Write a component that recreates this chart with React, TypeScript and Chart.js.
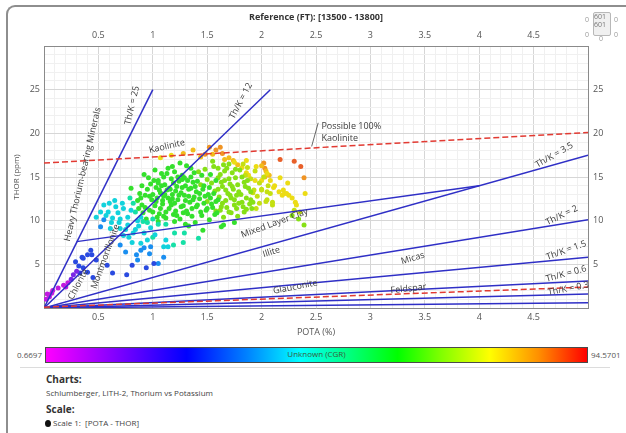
import React, { useEffect, useRef } from 'react';
import { Chart, registerables } from 'chart.js';
Chart.register(...registerables);

const FONT = '"Open Sans", "Noto Sans", sans-serif';

// ---------- axes ----------
const X_MIN = 0;
const X_MAX = 5;
const Y_MIN = 0;
const Y_MAX = 30;
const xTickLabels = [0.5, 1, 1.5, 2, 2.5, 3, 3.5, 4, 4.5];
const yTickLabels = [5, 10, 15, 20, 25];
const topTitle = 'Reference (FT): [13500 - 13800]';
const xTitle = 'POTA (%)';
const yTitle = 'THOR (ppm)';
const cgrMin = '0.6697';
const cgrMax = '94.5701';
const cgrName = 'Unknown (CGR)';

// ---------- reference lines (POTA, THOR) ----------
const lineThK25 = [[0, 0], [1, 25]];
const lineThK12 = [[0, 0], [2.08, 25]];
const lineThK35 = [[0, 0], [5, 17.5]];
const lineThK2 = [[0, 0], [5, 10.1]];
const lineThK15 = [[0, 0], [5, 5.8]];
const lineThK06 = [[0, 0], [5, 3.1]];
const lineThK03 = [[0, 0], [5, 1.6]];
const lineBottom = [[0, 0], [5, 0.6]];
const lineMixedLayer = [[0.3, 7.6], [4.0, 14.0]];
const lineKaolinite = [[0, 16.6], [5, 20.1]];
const lineFeldsparRed = [[0, 0.1], [5, 2.4]];

// ---------- scatter points by CGR colour band ----------
const magentaPts = [[0.03, 1.6], [0.07, 1.7], [0.08, 2.0], [0.05, 1.3], [0.02, 1.0], [0.13, 2.3], [0.18, 2.6], [0.2, 2.4], [0.22, 2.9]];
const violetPts = [[0.27, 3.8], [0.25, 3.3], [0.3, 4.2]];
const bluePts = [[0.29, 5.3], [0.32, 4.8], [0.36, 5.7], [0.36, 4.6], [0.4, 6.1], [0.43, 6.6], [0.4, 4.1], [0.45, 3.5], [0.33, 4.0], [0.76, 3.8], [0.58, 4.9], [0.63, 4.0], [0.81, 4.9], [0.35, 5.8], [0.44, 6.1], [0.48, 5.5], [0.94, 4.6], [1.01, 5.1]];
const azurePts = [[0.85, 6.1], [0.86, 5.5], [0.92, 6.9], [0.98, 7.0], [0.89, 6.6], [1.05, 5.1], [1.1, 5.8], [0.97, 6.2], [0.7, 7.2], [0.75, 6.4], [0.52, 9.3], [0.55, 10.1]];
const cyanPts = [[0.52, 11.0], [0.59, 11.0], [0.63, 10.3], [0.68, 10.9], [0.69, 9.8], [0.61, 9.1], [0.7, 9.1], [0.77, 9.5], [0.73, 8.3], [0.78, 8.1], [0.81, 7.5], [0.89, 7.4], [0.73, 11.4], [0.8, 11.2], [0.77, 10.4], [0.89, 10.4], [0.84, 9.0], [0.92, 8.6], [0.98, 9.2], [0.95, 7.8], [0.6, 12.0], [0.66, 11.6], [0.86, 10.0], [1.02, 8.4], [1.1, 7.0], [1.14, 7.0], [1.12, 7.8], [0.48, 10.4],
  [0.55, 11.8], [0.65, 12.3], [0.7, 10.2], [0.75, 9.0], [0.82, 8.6], [0.87, 9.4], [0.62, 9.8], [0.57, 10.6], [0.72, 12.0]];
const tealPts = [[1.0, 8.1], [1.19, 7.2], [1.28, 7.5], [1.29, 8.6], [0.95, 9.8], [1.0, 10.2], [1.2, 8.6], [1.05, 9.6], [0.82, 12.0], [0.84, 11.0], [1.42, 8.0], [1.12, 9.6], [0.79, 12.6], [0.91, 9.9]];
const greenPts = [
  [0.86, 12.3], [0.88, 13.1], [0.9, 11.8], [0.93, 12.9], [0.95, 13.6], [0.97, 11.2], [0.98, 14.2], [0.99, 12.4], [0.91, 10.9], [0.87, 11.4], [0.94, 10.2], [0.96, 14.9], [1.0, 13.0], [0.92, 15.3], [0.8, 13.7], [0.89, 12.6], [1.05, 14.3],
  [1.02, 11.7], [1.03, 13.8], [1.04, 12.6], [1.05, 14.6], [1.06, 10.8], [1.07, 13.2], [1.08, 15.4], [1.09, 11.9], [1.1, 12.8], [1.11, 14.1], [1.12, 10.3], [1.13, 13.5], [1.14, 16.0], [1.15, 11.4], [1.16, 12.2], [1.17, 14.8], [1.18, 13.0], [1.19, 10.7], [1.2, 15.6], [1.05, 9.9], [1.18, 12.5],
  [1.21, 11.1], [1.22, 13.9], [1.23, 12.4], [1.24, 14.5], [1.25, 10.2], [1.26, 13.2], [1.27, 15.2], [1.28, 11.7], [1.29, 12.9], [1.3, 14.0], [1.31, 16.3], [1.32, 10.8], [1.33, 13.6], [1.34, 12.1], [1.35, 15.0], [1.36, 11.4], [1.37, 14.4], [1.38, 12.7], [1.39, 9.8], [1.4, 13.3], [1.25, 16.6], [1.33, 9.4],
  [1.41, 11.8], [1.43, 12.5], [1.45, 10.6], [1.46, 13.6], [1.47, 12.0], [1.49, 11.2], [1.51, 13.0], [1.52, 10.1], [1.53, 12.6], [1.55, 11.5], [1.58, 12.2], [1.59, 10.9], [1.46, 8.9], [1.63, 9.3], [1.65, 9.5], [1.75, 9.8], [1.15, 13.7], [1.27, 14.7], [1.1, 15.0],
  [0.9, 14.0], [0.93, 11.5], [0.97, 12.8], [1.0, 11.0], [1.01, 14.6], [1.03, 12.2], [1.04, 10.4], [1.06, 13.5], [1.07, 11.4], [1.08, 14.0], [1.09, 12.3], [1.11, 13.0], [1.12, 11.0], [1.13, 15.4], [1.14, 12.6], [1.16, 13.6], [1.17, 11.8], [1.19, 14.3], [1.2, 12.0], [1.21, 13.4], [1.22, 10.6], [1.23, 15.0], [1.24, 12.9], [1.26, 11.6], [1.27, 13.8], [1.28, 10.9], [1.29, 14.9], [1.3, 12.3], [1.31, 11.1], [1.32, 14.6], [1.33, 12.8], [1.35, 13.7], [1.36, 10.5], [1.37, 12.4], [1.38, 15.5], [1.39, 13.9], [1.4, 11.6], [1.41, 14.5], [1.43, 13.1], [1.44, 11.0], [1.45, 15.2], [1.47, 14.0], [1.48, 12.8], [1.5, 11.4], [1.52, 13.8], [1.53, 15.3], [1.54, 11.9], [1.56, 13.1], [1.57, 10.7], [1.58, 14.6], [1.6, 12.4], [1.2, 9.9], [1.3, 9.6], [1.1, 10.5], [1.02, 15.8], [1.18, 16.2], [1.35, 16.0]
];
const limePts = [
  [1.42, 15.6], [1.44, 14.1], [1.48, 15.9], [1.5, 14.7], [1.54, 14.3], [1.56, 16.2], [1.57, 13.4], [1.6, 14.9], [1.61, 12.7], [1.62, 15.3], [1.63, 11.6], [1.64, 13.9], [1.65, 10.4], [1.66, 14.6], [1.67, 12.3], [1.68, 16.0], [1.69, 13.1], [1.7, 11.0], [1.71, 14.2], [1.72, 12.6], [1.73, 15.5], [1.74, 13.6], [1.75, 11.8], [1.76, 14.9], [1.77, 12.9], [1.78, 10.5], [1.79, 13.3], [1.8, 15.8],
  [1.82, 12.1], [1.84, 14.4], [1.86, 11.3], [1.88, 13.7], [1.9, 12.4], [1.55, 16.8], [1.7, 16.5], [1.91, 11.4], [1.84, 11.0], [2.28, 10.6], [2.34, 10.2], [2.39, 9.5], [1.5, 12.2], [1.58, 11.1],
  [1.6, 13.6], [1.62, 11.2], [1.63, 14.4], [1.64, 12.0], [1.66, 15.7], [1.67, 13.5], [1.68, 11.5], [1.7, 14.8], [1.71, 12.9], [1.72, 10.9], [1.73, 13.9], [1.75, 12.4], [1.76, 15.9], [1.77, 11.4], [1.78, 14.1], [1.79, 12.0], [1.81, 13.0], [1.82, 15.0], [1.83, 11.6], [1.85, 13.9], [1.86, 12.6], [1.87, 14.6], [1.89, 11.9], [1.9, 13.3], [1.92, 12.1], [1.6, 16.0], [1.65, 16.4]
];
const yellowGreenPts = [[1.85, 15.2], [1.87, 16.1], [1.9, 14.8], [1.92, 13.2], [1.94, 15.7], [1.96, 12.8], [1.98, 14.3], [2.0, 13.6], [2.02, 15.0], [2.04, 12.2], [2.06, 14.0], [2.08, 13.1], [1.95, 11.4], [2.1, 11.8], [1.83, 16.5], [2.1, 12.1], [2.05, 12.4], [1.98, 12.0], [1.93, 13.5], [2.0, 13.5], [2.05, 13.3], [2.3, 11.2], [2.35, 11.0]];
const yellowPts = [[1.86, 15.5], [1.88, 15.2], [1.94, 14.6], [2.0, 14.6], [2.05, 15.4], [2.11, 13.8], [2.16, 13.3], [2.19, 12.9], [2.21, 13.1], [2.25, 12.9], [2.28, 12.6], [2.31, 12.1], [2.32, 11.8], [2.4, 13.1], [2.17, 14.9], [2.24, 14.3], [1.86, 16.9], [1.82, 16.1], [1.95, 16.2], [2.08, 14.6], [2.12, 14.0], [2.2, 13.5], [2.23, 13.1], [1.17, 17.5], [1.07, 17.2], [1.75, 16.7]];
const goldPts = [[1.28, 17.7], [1.37, 18.1], [1.44, 17.3], [1.55, 17.6], [1.7, 17.2], [1.74, 16.9], [1.78, 16.4], [2.0, 16.3], [2.04, 15.7], [2.07, 15.2], [2.03, 15.0], [1.66, 17.0]];
const orangePts = [[2.02, 16.6], [2.03, 16.0], [2.39, 14.9], [1.52, 18.4], [1.58, 18.1], [1.64, 17.7], [1.48, 17.6], [1.62, 18.4]];
const redPts = [[2.17, 17.0], [2.3, 16.8], [2.36, 16.2]];

// ---------- in-plot labels (data coordinates) ----------
const plotLabels = [
  { text: 'Th/K = 25', x: 0.81, y: 23.2, angle: -77 },
  { text: 'Th/K = 12', x: 1.81, y: 23.7, angle: -62 },
  { text: 'Kaolinite', x: 1.13, y: 18.5, angle: -13 },
  { text: 'Heavy Thorium-bearing Minerals', x: 0.356, y: 15.3, angle: -77 },
  { text: 'Chlorite', x: 0.315, y: 2.7, angle: -62 },
  { text: 'Montmorillonite', x: 0.565, y: 5.9, angle: -70 },
  { text: 'Mixed Layer Clay', x: 2.12, y: 9.7, angle: -20 },
  { text: 'Illite', x: 2.09, y: 6.4, angle: -17 },
  { text: 'Micas', x: 3.39, y: 5.7, angle: -17 },
  { text: 'Glauconite', x: 2.31, y: 2.4, angle: -11 },
  { text: 'Feldspar', x: 3.35, y: 2.2, angle: -6 },
  { text: 'Th/K = 3.5', x: 4.69, y: 17.5, angle: -30 },
  { text: 'Th/K = 2', x: 4.76, y: 10.6, angle: -26 },
  { text: 'Th/K = 1.5', x: 4.8, y: 6.6, angle: -20 },
  { text: 'Th/K = 0.6', x: 4.8, y: 3.9, angle: -15 },
  { text: 'Th/K = 0.3', x: 4.82, y: 2.2, angle: -11 }
];
const kaoliniteNote = ['Possible 100%', 'Kaolinite'];

const toXY = (pts: number[][]) => pts.map(([x, y]) => ({ x, y }));

const BLUE = '#2f2fc6';
const RED = '#e23a32';

const isMultiple = (v: number, step: number) => Math.abs(v / step - Math.round(v / step)) < 1e-6;

function lineDs(pts: number[][], color: string, dashed = false) {
  return {
    type: 'line' as const,
    data: toXY(pts),
    showLine: true,
    borderColor: color,
    borderWidth: 1.5,
    borderDash: dashed ? [6, 3] : [],
    pointRadius: 0,
    fill: false,
    order: 0
  };
}
function ptDs(pts: number[][], color: string) {
  return {
    type: 'scatter' as const,
    data: toXY(pts),
    backgroundColor: color,
    borderWidth: 0,
    pointRadius: 2.5,
    order: 1
  };
}

const labelsPlugin = {
  id: 'plotLabels',
  afterDatasetsDraw(chart: any) {
    const { ctx, scales } = chart;
    const xs = scales.x;
    const ys = scales.y;
    ctx.save();
    ctx.fillStyle = '#3c3c3c';
    ctx.font = `9px ${FONT}`;
    ctx.textAlign = 'center';
    ctx.textBaseline = 'middle';
    for (const l of plotLabels) {
      ctx.save();
      ctx.translate(xs.getPixelForValue(l.x), ys.getPixelForValue(l.y));
      ctx.rotate((l.angle * Math.PI) / 180);
      ctx.fillText(l.text, 0, 0);
      ctx.restore();
    }
    ctx.textAlign = 'left';
    const nx = xs.getPixelForValue(2.55);
    ctx.fillText(kaoliniteNote[0], nx, ys.getPixelForValue(20.8));
    ctx.fillText(kaoliniteNote[1], nx, ys.getPixelForValue(19.4));
    ctx.strokeStyle = '#444';
    ctx.lineWidth = 0.8;
    ctx.beginPath();
    ctx.moveTo(xs.getPixelForValue(2.52), ys.getPixelForValue(21.2));
    ctx.lineTo(xs.getPixelForValue(2.46), ys.getPixelForValue(18.5));
    ctx.stroke();
    ctx.restore();
  }
};

const tickFont = { family: FONT, size: 9 };
const xLabelCb = (v: any) => {
  const n = Number(v);
  return xTickLabels.some((t) => Math.abs(t - n) < 1e-6) ? String(Math.round(n * 10) / 10) : '';
};
const yLabelCb = (v: any) => {
  const n = Number(v);
  return yTickLabels.some((t) => Math.abs(t - n) < 1e-6) ? String(Math.round(n)) : '';
};

export default function App() {
  const ref = useRef<HTMLCanvasElement>(null);
  useEffect(() => {
    const datasets: any[] = [
      lineDs(lineKaolinite, RED, true),
      lineDs(lineFeldsparRed, RED, true),
      lineDs(lineThK25, BLUE),
      lineDs(lineThK12, BLUE),
      lineDs(lineThK35, BLUE),
      lineDs(lineThK2, BLUE),
      lineDs(lineThK15, BLUE),
      lineDs(lineThK06, BLUE),
      lineDs(lineThK03, BLUE),
      lineDs(lineBottom, BLUE),
      lineDs(lineMixedLayer, BLUE),
      ptDs(magentaPts, '#c21ae0'),
      ptDs(violetPts, '#7a28e6'),
      ptDs(bluePts, '#2a4ae0'),
      ptDs(azurePts, '#1a8ef0'),
      ptDs(cyanPts, '#12d2dc'),
      ptDs(tealPts, '#16e0a6'),
      ptDs(greenPts, '#34e02c'),
      ptDs(limePts, '#86e016'),
      ptDs(yellowGreenPts, '#c4e012'),
      ptDs(yellowPts, '#ecdc14'),
      ptDs(goldPts, '#f2bc1a'),
      ptDs(orangePts, '#f09424'),
      ptDs(redPts, '#e8602a')
    ];
    const gridColor = (c: any) =>
      c.tick && (isMultiple(c.tick.value, c.scale.axis === 'x' ? 0.5 : 5)) ? '#d6d6d6' : '#f0f0f0';
    const chart = new Chart(ref.current!, {
      type: 'scatter',
      data: { datasets },
      plugins: [labelsPlugin],
      options: {
        responsive: false,
        animation: false,
        layout: { padding: 0 },
        plugins: { legend: { display: false }, tooltip: { enabled: false } },
        scales: {
          x: {
            type: 'linear', position: 'bottom', min: X_MIN, max: X_MAX,
            afterFit: (s: any) => { s.height = 32; },
            ticks: { stepSize: 0.1, autoSkip: false, maxTicksLimit: 200, maxRotation: 0, padding: 4, color: '#555', font: tickFont, callback: xLabelCb },
            grid: { color: gridColor, drawTicks: false, lineWidth: 1 },
            border: { color: '#8a8a8a', width: 1 },
            title: { display: true, text: xTitle, color: '#555', font: { family: FONT, size: 9 }, padding: { top: 0, bottom: 2 } }
          },
          x2: {
            type: 'linear', position: 'top', min: X_MIN, max: X_MAX,
            afterFit: (s: any) => { s.height = 46; },
            ticks: { stepSize: 0.1, autoSkip: false, maxTicksLimit: 200, maxRotation: 0, padding: 5, color: '#555', font: tickFont, callback: xLabelCb },
            grid: { drawOnChartArea: false, drawTicks: false },
            border: { color: '#8a8a8a', width: 1 },
            title: { display: true, text: topTitle, color: '#333', font: { family: FONT, size: 9, weight: 'bold' }, padding: { top: 12, bottom: 0 } }
          },
          y: {
            type: 'linear', position: 'left', min: Y_MIN, max: Y_MAX,
            afterFit: (s: any) => { s.width = 44; },
            ticks: { stepSize: 1, autoSkip: false, maxTicksLimit: 200, padding: 4, color: '#555', font: tickFont, callback: yLabelCb },
            grid: { color: gridColor, drawTicks: false, lineWidth: 1 },
            border: { color: '#8a8a8a', width: 1 },
            title: { display: true, text: yTitle, color: '#555', font: { family: FONT, size: 8 }, padding: { top: 12, bottom: 0 } }
          },
          y2: {
            type: 'linear', position: 'right', min: Y_MIN, max: Y_MAX,
            afterFit: (s: any) => { s.width = 38; },
            ticks: { stepSize: 1, autoSkip: false, maxTicksLimit: 200, padding: 5, color: '#555', font: tickFont, callback: yLabelCb },
            grid: { drawOnChartArea: false, drawTicks: false },
            border: { color: '#8a8a8a', width: 1 }
          }
        }
      } as any
    });
    return () => chart.destroy();
  }, []);

  const small: React.CSSProperties = { position: 'absolute', fontSize: 8, color: '#555', lineHeight: '10px' };
  return (
    <div style={{ position: 'absolute', left: 0, top: 0, width: 626, height: 433, overflow: 'hidden', background: '#fff', fontFamily: FONT }}>
      <div style={{ position: 'absolute', left: 6, top: 5, width: 700, height: 500, borderLeft: '2px solid #8e8e8e', borderTop: '2px solid #8e8e8e', borderTopLeftRadius: 9 }} />
      <canvas ref={ref} width={626} height={340} style={{ position: 'absolute', left: 0, top: 0, width: 626, height: 340 }} />
      {/* top-right widget */}
      <div style={{ position: 'absolute', left: 593, top: 12, width: 16, height: 22, border: '1px solid #b8b8b8', borderRadius: 2, background: '#f0f0f0' }} />
      <div style={{ ...small, left: 594, top: 13, fontSize: 7, lineHeight: '8px', color: '#777' }}>601<br />601</div>
      <div style={{ ...small, left: 585, top: 15, fontSize: 7, color: '#999' }}>0</div>
      <div style={{ ...small, left: 614, top: 15, fontSize: 7, color: '#999' }}>0</div>
      <div style={{ ...small, left: 585, top: 30, fontSize: 7, color: '#999' }}>0</div>
      <div style={{ ...small, left: 599, top: 34, fontSize: 7, color: '#999' }}>0</div>
      <div style={{ ...small, left: 614, top: 30, fontSize: 7, color: '#999' }}>0</div>
      {/* colour bar */}
      <div style={{ ...small, left: 0, width: 42, textAlign: 'right', top: 350 }}>{cgrMin}</div>
      <div style={{ position: 'absolute', left: 45, top: 347, width: 541, height: 14, border: '1px solid #4a4a4a', background: 'linear-gradient(to right, #ff00ff 0%, #8a00ff 12%, #0000ff 26%, #0080ff 37%, #00ffff 47%, #00ff80 56%, #00ff00 65%, #80ff00 73%, #ffff00 82%, #ff9000 91%, #ff0000 100%)' }} />
      <div style={{ ...small, left: 45, width: 543, textAlign: 'center', top: 349, color: '#3a5a3a' }}>{cgrName}</div>
      <div style={{ ...small, left: 591, top: 350 }}>{cgrMax}</div>
      <div style={{ position: 'absolute', left: 20, top: 367, width: 590, height: 1, background: '#dcdcdc' }} />
      {/* bottom texts */}
      <div style={{ position: 'absolute', left: 46, top: 372, fontSize: 10, fontWeight: 'bold', color: '#333' }}>Charts:</div>
      <div style={{ position: 'absolute', left: 46, top: 387, fontSize: 8, color: '#444' }}>Schlumberger, LITH-2, Thorium vs Potassium</div>
      <div style={{ position: 'absolute', left: 46, top: 402, fontSize: 10, fontWeight: 'bold', color: '#333' }}>Scale:</div>
      <div style={{ position: 'absolute', left: 45, top: 420, width: 6, height: 7, borderRadius: '50%', background: '#111' }} />
      <div style={{ position: 'absolute', left: 53, top: 417, fontSize: 8, color: '#444' }}>Scale 1:&nbsp; [POTA - THOR]</div>
    </div>
  );
}
